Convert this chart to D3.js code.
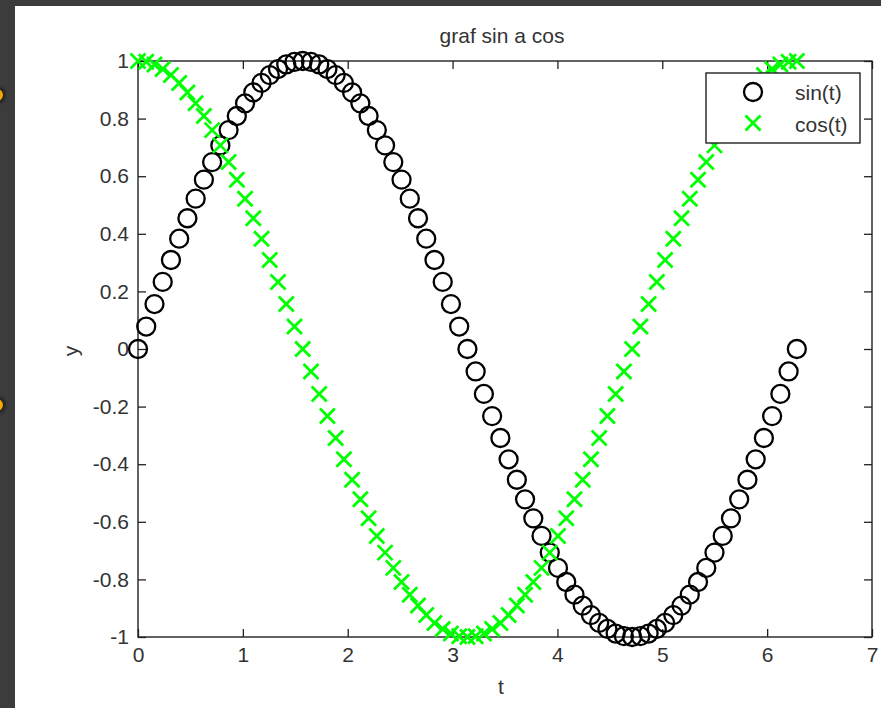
<!DOCTYPE html>
<html>
<head>
<meta charset="utf-8">
<script src="https://cdn.jsdelivr.net/npm/d3@7"></script>
<style>
  html, body { margin: 0; padding: 0; background: #3c3c3c; }
  svg { display: block; }
</style>
</head>
<body>
<svg id="chart" width="881" height="708"></svg>
<script>
// t = 0 : pi/40 : 2*pi
const tValues = [
  0, 0.0785, 0.1571, 0.2356, 0.3142, 0.3927, 0.4712, 0.5498, 0.6283, 0.7069,
  0.7854, 0.8639, 0.9425, 1.0210, 1.0996, 1.1781, 1.2566, 1.3352, 1.4137, 1.4923,
  1.5708, 1.6493, 1.7279, 1.8064, 1.8850, 1.9635, 2.0420, 2.1206, 2.1991, 2.2777,
  2.3562, 2.4347, 2.5133, 2.5918, 2.6704, 2.7489, 2.8274, 2.9060, 2.9845, 3.0631,
  3.1416, 3.2201, 3.2987, 3.3772, 3.4558, 3.5343, 3.6128, 3.6914, 3.7699, 3.8485,
  3.9270, 4.0055, 4.0841, 4.1626, 4.2412, 4.3197, 4.3982, 4.4768, 4.5553, 4.6339,
  4.7124, 4.7909, 4.8695, 4.9480, 5.0265, 5.1051, 5.1836, 5.2622, 5.3407, 5.4193,
  5.4978, 5.5763, 5.6549, 5.7334, 5.8119, 5.8905, 5.9690, 6.0476, 6.1261, 6.2046,
  6.2832
];

const sinValues = [
  0, 0.078, 0.156, 0.233, 0.309, 0.383, 0.454, 0.522, 0.588, 0.649,
  0.707, 0.760, 0.809, 0.853, 0.891, 0.924, 0.951, 0.972, 0.988, 0.997,
  1, 0.997, 0.988, 0.972, 0.951, 0.924, 0.891, 0.853, 0.809, 0.760,
  0.707, 0.649, 0.588, 0.522, 0.454, 0.383, 0.309, 0.233, 0.156, 0.078,
  0, -0.078, -0.156, -0.233, -0.309, -0.383, -0.454, -0.522, -0.588, -0.649,
  -0.707, -0.760, -0.809, -0.853, -0.891, -0.924, -0.951, -0.972, -0.988, -0.997,
  -1, -0.997, -0.988, -0.972, -0.951, -0.924, -0.891, -0.853, -0.809, -0.760,
  -0.707, -0.649, -0.588, -0.522, -0.454, -0.383, -0.309, -0.233, -0.156, -0.078,
  0
];

const cosValues = [
  1, 0.997, 0.988, 0.972, 0.951, 0.924, 0.891, 0.853, 0.809, 0.760,
  0.707, 0.649, 0.588, 0.522, 0.454, 0.383, 0.309, 0.233, 0.156, 0.078,
  0, -0.078, -0.156, -0.233, -0.309, -0.383, -0.454, -0.522, -0.588, -0.649,
  -0.707, -0.760, -0.809, -0.853, -0.891, -0.924, -0.951, -0.972, -0.988, -0.997,
  -1, -0.997, -0.988, -0.972, -0.951, -0.924, -0.891, -0.853, -0.809, -0.760,
  -0.707, -0.649, -0.588, -0.522, -0.454, -0.383, -0.309, -0.233, -0.156, -0.078,
  0, 0.078, 0.156, 0.233, 0.309, 0.383, 0.454, 0.522, 0.588, 0.649,
  0.707, 0.760, 0.809, 0.853, 0.891, 0.924, 0.951, 0.972, 0.988, 0.997,
  1
];

const xTicks = [0, 1, 2, 3, 4, 5, 6, 7];
const yTicks = [-1, -0.8, -0.6, -0.4, -0.2, 0, 0.2, 0.4, 0.6, 0.8, 1];
const seriesNames = ["sin(t)", "cos(t)"];
const titleText = "graf sin a cos";
const xLabelText = "t";
const yLabelText = "y";

const FONT = '"Liberation Sans", Arial, sans-serif';
const INK = "#222222";
const GREEN = "#00ff00";

const svg = d3.select("#chart");

// window frame: dark surround, white figure area
svg.append("rect").attr("x", 0).attr("y", 0).attr("width", 881).attr("height", 708).attr("fill", "#3c3c3c");
const glow = svg.append("defs").append("filter").attr("id", "glow");
glow.append("feGaussianBlur").attr("stdDeviation", 1.5);
[95, 405].forEach(cy => {
  svg.append("circle").attr("cx", -3).attr("cy", cy).attr("r", 9)
    .attr("fill", "#222").attr("filter", "url(#glow)");
  svg.append("circle").attr("cx", -3).attr("cy", cy).attr("r", 6)
    .attr("fill", "#f2a900");
});
svg.append("rect").attr("x", 15).attr("y", 6).attr("width", 866).attr("height", 702).attr("fill", "#ffffff");

const plotLeft = 138, plotRight = 872, plotTop = 61, plotBottom = 637;
const x = d3.scaleLinear().domain([0, 7]).range([plotLeft, plotRight]);
const y = d3.scaleLinear().domain([-1, 1]).range([plotBottom, plotTop]);

function styleAxis(g) {
  g.select(".domain").remove();
  g.selectAll(".tick line").attr("stroke", INK).attr("stroke-width", 1.3);
  g.selectAll(".tick text").attr("fill", "#333").style("font-family", FONT).style("font-size", "21px");
}

// ticks point inwards on all four sides
svg.append("g").attr("transform", `translate(0,${plotBottom})`)
  .call(d3.axisBottom(x).tickValues(xTicks).tickSize(-8).tickPadding(10).tickFormat(d => String(d)))
  .call(styleAxis);
svg.append("g").attr("transform", `translate(0,${plotTop})`)
  .call(d3.axisTop(x).tickValues(xTicks).tickSize(-8).tickFormat(""))
  .call(styleAxis);
svg.append("g").attr("transform", `translate(${plotLeft},0)`)
  .call(d3.axisLeft(y).tickValues(yTicks).tickSize(-8).tickPadding(9).tickFormat(d => String(d)))
  .call(styleAxis);
svg.append("g").attr("transform", `translate(${plotRight},0)`)
  .call(d3.axisRight(y).tickValues(yTicks).tickSize(-8).tickFormat(""))
  .call(styleAxis);

// axes box
svg.append("rect").attr("x", plotLeft).attr("y", plotTop)
  .attr("width", plotRight - plotLeft).attr("height", plotBottom - plotTop)
  .attr("fill", "none").attr("stroke", INK).attr("stroke-width", 1.4);

// title and axis labels
svg.append("text").attr("x", 502).attr("y", 43)
  .attr("text-anchor", "middle").attr("fill", "#333")
  .style("font-family", FONT).style("font-size", "21px").text(titleText);
svg.append("text").attr("x", 501).attr("y", 694)
  .attr("text-anchor", "middle").attr("fill", "#333")
  .style("font-family", FONT).style("font-size", "21px").text(xLabelText);
svg.append("text").attr("transform", "translate(78,351) rotate(-90)")
  .attr("text-anchor", "middle").attr("fill", "#333")
  .style("font-family", FONT).style("font-size", "21px").text(yLabelText);

const R = 9, XH = 7.5;
const crossPath = (cx, cy) => `M${cx - XH},${cy - XH}L${cx + XH},${cy + XH}M${cx - XH},${cy + XH}L${cx + XH},${cy - XH}`;

// sin(t): open circles
svg.append("g").selectAll("circle")
  .data(tValues.map((t, i) => ({ t, v: sinValues[i] })))
  .join("circle")
  .attr("cx", d => x(d.t)).attr("cy", d => y(d.v)).attr("r", R)
  .attr("fill", "none").attr("stroke", "#000").attr("stroke-width", 2.3);

// cos(t): green crosses
svg.append("g").selectAll("path")
  .data(tValues.map((t, i) => ({ t, v: cosValues[i] })))
  .join("path")
  .attr("d", d => crossPath(x(d.t), y(d.v)))
  .attr("fill", "none").attr("stroke", GREEN).attr("stroke-width", 2.8);

// legend
const lg = svg.append("g");
lg.append("rect").attr("x", 706).attr("y", 73).attr("width", 154).attr("height", 70)
  .attr("fill", "#fff").attr("stroke", INK).attr("stroke-width", 1.4);
lg.append("circle").attr("cx", 753).attr("cy", 92).attr("r", R)
  .attr("fill", "none").attr("stroke", "#000").attr("stroke-width", 2.3);
lg.append("path").attr("d", crossPath(753, 123))
  .attr("fill", "none").attr("stroke", GREEN).attr("stroke-width", 2.8);
lg.selectAll("text").data(seriesNames).join("text")
  .attr("x", 795).attr("y", (d, i) => 100 + i * 31.5)
  .attr("fill", "#333").style("font-family", FONT).style("font-size", "21px")
  .text(d => d);
</script>
</body>
</html>
